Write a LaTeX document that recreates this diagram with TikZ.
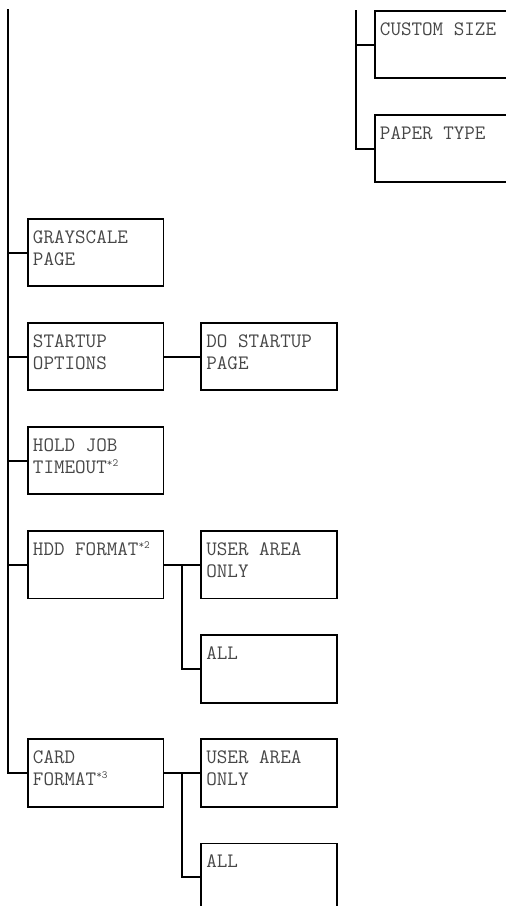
\documentclass[tikz,border=0pt]{standalone}
\usepackage{fontspec}
\usepackage{tikz}
\usetikzlibrary{positioning,
calc}

\newcommand{\menutext}[1]{\parbox[t]{125.5pt}{\raggedright #1}}
\newcommand{\menunote}[1]{\raisebox{7pt}{\fontsize{11}{11}\selectfont #1}}

\begin{document}
\begin{tikzpicture}[
				x=1pt, y=1pt,
				menubox/.style={
					draw,
					line width=1.9pt,
					minimum width=135.2pt,
					minimum height=67.2pt,
					inner xsep=5pt,
					inner ysep=0pt,
					text height=24.5pt,
					text depth=42.7pt,
					font=\fontsize{20.5}{22}\selectfont\ttfamily,
					text=black!72
				},
				link/.style={
					line width=1.9pt
				}
				]
				\useasboundingbox (0,0) rectangle (506,-906);
				
				% submenu at the top right
				\node[menubox, anchor=north west] (customsize) at (374,-10) {\menutext{CUSTOM SIZE}};
				\node[menubox, below=35pt of customsize] (papertype) {\menutext{PAPER TYPE}};
				
				% main column
				\node[menubox, anchor=north west] (grayscale) at (27,-218) {\menutext{GRAYSCALE\\PAGE}};
				\node[menubox, below=35pt of grayscale] (startup) {\menutext{STARTUP\\OPTIONS}};
				\node[menubox, right=36pt of startup] (dostartup) {\menutext{DO STARTUP\\PAGE}};
				\node[menubox, below=35pt of startup] (holdjob) {\menutext{HOLD JOB\\TIMEOUT\menunote{*2}}};
				\node[menubox, below=35pt of holdjob] (hddformat) {\menutext{HDD FORMAT\menunote{*2}}};
				\node[menubox, right=36pt of hddformat] (hdduser) {\menutext{USER AREA\\ONLY}};
				\node[menubox, below=35pt of hdduser] (hddall) {\menutext{ALL}};
				\node[menubox, below=139pt of hddformat] (cardformat) {\menutext{CARD\\FORMAT\menunote{*3}}};
				\node[menubox, right=36pt of cardformat] (carduser) {\menutext{USER AREA\\ONLY}};
				\node[menubox, below=35pt of carduser] (cardall) {\menutext{ALL}};
				
				% trunks
				\coordinate (maintop) at (8,-9);
				\coordinate (sidetop) at (356,-10);
				\coordinate (hddfork) at ($(hddformat.east)!0.5!(hdduser.west)$);
				\coordinate (cardfork) at ($(cardformat.east)!0.5!(carduser.west)$);
				
				\draw[link] (maintop) |- (cardformat.west);
				\draw[link] (grayscale.west) -- (grayscale.west -| maintop);
				\draw[link] (startup.west) -- (startup.west -| maintop);
				\draw[link] (holdjob.west) -- (holdjob.west -| maintop);
				\draw[link] (hddformat.west) -- (hddformat.west -| maintop);
				
				\draw[link] (sidetop) |- (papertype.west);
				\draw[link] (customsize.west) -- (customsize.west -| sidetop);
				
				\draw[link] (startup) -- (dostartup);
				\draw[link] (hddformat) -- (hdduser);
				\draw[link] (hddfork) |- (hddall.west);
				\draw[link] (cardformat) -- (carduser);
				\draw[link] (cardfork) |- (cardall.west);
			\end{tikzpicture}
\end{document}
